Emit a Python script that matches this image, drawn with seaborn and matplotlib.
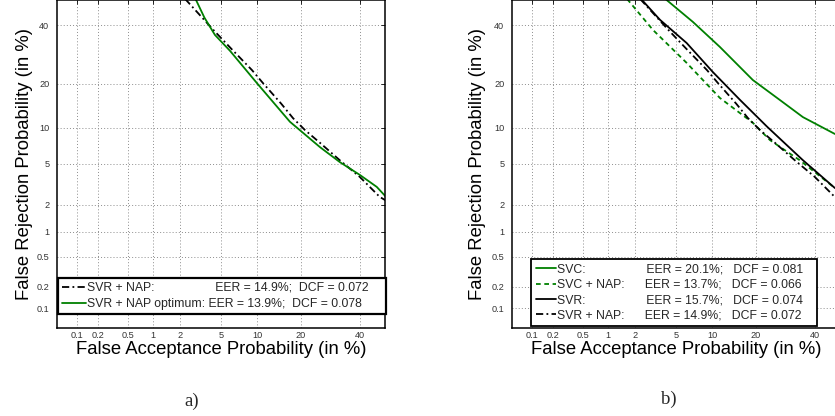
import math
import numpy as np
import matplotlib
matplotlib.use("Agg")
import matplotlib.pyplot as plt
import seaborn as sns
from matplotlib.ticker import FixedLocator, FixedFormatter, NullLocator

# ---------------- data (all values in %) ----------------
tick_values = [0.1, 0.2, 0.5, 1, 2, 5, 10, 20, 40]
tick_labels = ["0.1", "0.2", "0.5", "1", "2", "5", "10", "20", "40"]

# SVR + NAP (same system in both panels)
svr_nap_fa = [1.8, 2.3, 4.3, 6.3, 9.1, 11.0, 14.9, 17.8, 21.1, 25.7, 32.5, 40.0, 47.9, 50.5]
svr_nap_fr = [54, 50, 38.0, 30.8, 24.1, 20.3, 14.9, 11.8, 9.6, 7.6, 5.4, 3.8, 2.41, 2.2]

# SVR + NAP optimum
svr_nap_opt_fa = [2.6, 2.9, 3.5, 4.4, 6.0, 9.9, 17.0, 25.7, 32.5, 40.0, 46.7, 50.5]
svr_nap_opt_fr = [54, 50, 43.0, 36.3, 30.5, 20.3, 11.1, 7.0, 5.2, 3.97, 3.04, 2.4]

# SVC
svc_fa = [3.2, 4.1, 7.0, 11.4, 19.1, 27.3, 35.5, 47.9, 50.5]
svc_fr = [54, 50, 41.3, 31.9, 21.1, 15.8, 12.0, 8.96, 8.7]

# SVC + NAP
svc_nap_fa = [1.37, 1.67, 3.03, 6.2, 11.4, 19.1, 24.1, 34.3, 47.9, 50.5]
svc_nap_fr = [54, 50, 38.2, 26.4, 16.3, 10.9, 8.0, 5.4, 2.97, 2.8]

# SVR
svr_fa = [1.9, 2.35, 3.55, 6.2, 10.1, 15.8, 23.2, 35.5, 47.9, 50.5]
svr_fr = [54, 50, 42.1, 33.3, 23.5, 15.8, 10.2, 5.4, 2.97, 2.8]

left_labels = [
    "SVR + NAP:" + " " * 18 + "EER = 14.9%;  DCF = 0.072",
    "SVR + NAP optimum: EER = 13.9%;  DCF = 0.078",
]
right_labels = [
    "SVC:" + " " * 18 + "EER = 20.1%;   DCF = 0.081",
    "SVC + NAP:" + " " * 6 + "EER = 13.7%;   DCF = 0.066",
    "SVR:" + " " * 18 + "EER = 15.7%;   DCF = 0.074",
    "SVR + NAP:" + " " * 6 + "EER = 14.9%;   DCF = 0.072",
]

GREEN = "#008000"
BLACK = "#000000"
DASHDOT = (0, (4, 1.8, 1, 1.8))
DASHED = (0, (2.6, 2.0))


# ---------------- probit (normal deviate) scale ----------------
_a = [-3.969683028665376e+01, 2.209460984245205e+02, -2.759285104469687e+02,
      1.383577518672690e+02, -3.066479806614716e+01, 2.506628277459239e+00]
_b = [-5.447609879822406e+01, 1.615858368580409e+02, -1.556989798598866e+02,
      6.680131188771972e+01, -1.328068155288572e+01]
_c = [-7.784894002430293e-03, -3.223964580411365e-01, -2.400758277161838e+00,
      -2.549732539343734e+00, 4.374664141464968e+00, 2.938163982698783e+00]
_d = [7.784695709041462e-03, 3.224671290700398e-01, 2.445134137142996e+00,
      3.754408661907416e+00]


def _ppf(p):
    p = np.clip(np.asarray(p, dtype=float), 1e-12, 1 - 1e-12)
    plow = 0.02425
    q_low = np.sqrt(-2 * np.log(np.minimum(p, 0.5)))
    x_low = (((((_c[0] * q_low + _c[1]) * q_low + _c[2]) * q_low + _c[3]) * q_low + _c[4]) * q_low + _c[5]) / \
            ((((_d[0] * q_low + _d[1]) * q_low + _d[2]) * q_low + _d[3]) * q_low + 1)
    q_hi = np.sqrt(-2 * np.log(np.minimum(1 - p, 0.5)))
    x_hi = -(((((_c[0] * q_hi + _c[1]) * q_hi + _c[2]) * q_hi + _c[3]) * q_hi + _c[4]) * q_hi + _c[5]) / \
           ((((_d[0] * q_hi + _d[1]) * q_hi + _d[2]) * q_hi + _d[3]) * q_hi + 1)
    q = p - 0.5
    r = q * q
    x_mid = (((((_a[0] * r + _a[1]) * r + _a[2]) * r + _a[3]) * r + _a[4]) * r + _a[5]) * q / \
            (((((_b[0] * r + _b[1]) * r + _b[2]) * r + _b[3]) * r + _b[4]) * r + 1)
    return np.where(p < plow, x_low, np.where(p > 1 - plow, x_hi, x_mid))


_erf = np.vectorize(math.erf, otypes=[float])


def probit_fwd(v):
    return _ppf(np.asarray(v, dtype=float) / 100.0)


def probit_inv(z):
    return 50.0 * (1.0 + _erf(np.asarray(z, dtype=float) / math.sqrt(2.0)))


# ---------------- style ----------------
sns.set_theme(style="white")
plt.rcParams["font.family"] = ["Liberation Sans", "DejaVu Sans"]

fig = plt.figure(figsize=(8.35, 4.16), dpi=100)
W, H = 835.0, 416.0
axL = fig.add_axes([57 / W, 1 - 328 / H, 328 / W, 328 / H])
axR = fig.add_axes([512 / W, 1 - 328 / H, 328 / W, 328 / H])


def style_axes(ax, ylab_x):
    ax.set_xscale("function", functions=(probit_fwd, probit_inv))
    ax.set_yscale("function", functions=(probit_fwd, probit_inv))
    ax.set_xlim(0.05, 50)
    ax.set_ylim(0.05, 50)
    for axis in (ax.xaxis, ax.yaxis):
        axis.set_major_locator(FixedLocator(tick_values))
        axis.set_major_formatter(FixedFormatter(tick_labels))
        axis.set_minor_locator(NullLocator())
    ax.grid(True, which="major", linestyle=(0, (1, 2.2)), color="#8c8c8c", linewidth=0.7)
    ax.set_axisbelow(True)
    for sp in ax.spines.values():
        sp.set_visible(True)
        sp.set_color("black")
        sp.set_linewidth(1.1)
    ax.tick_params(axis="both", direction="in", length=3, width=0.6, top=True, right=True,
                   labelsize=6.6, labelcolor="#333333", color="black")
    ax.tick_params(axis="x", pad=2.2)
    ax.tick_params(axis="y", pad=5.5)
    ax.set_xlabel("False Acceptance Probability (in %)", fontsize=13.3, color="black")
    ax.set_ylabel("False Rejection Probability (in %)", fontsize=13.3, color="black")
    ax.xaxis.set_label_coords(0.5, -0.04)
    ax.yaxis.set_label_coords(ylab_x, 0.5)


def draw(ax, fa, fr, color, ls, lw=1.3):
    sns.lineplot(x=fa, y=fr, ax=ax, color=color, linestyle=ls, linewidth=lw,
                 estimator=None, sort=False, legend=False)
    return ax.lines[-1]


style_axes(axL, -0.073)
style_axes(axR, -0.079)

# left panel
hL1 = draw(axL, svr_nap_fa, svr_nap_fr, BLACK, DASHDOT)
hL2 = draw(axL, svr_nap_opt_fa, svr_nap_opt_fr, GREEN, "-")

# right panel
hR1 = draw(axR, svc_fa, svc_fr, GREEN, "-")
hR2 = draw(axR, svc_nap_fa, svc_nap_fr, GREEN, DASHED)
hR3 = draw(axR, svr_fa, svr_fr, BLACK, "-")
hR4 = draw(axR, svr_nap_fa, svr_nap_fr, BLACK, DASHDOT)

legL = axL.legend([hL1, hL2], left_labels, loc="lower left", mode="expand",
                  bbox_to_anchor=(0.003, 0.043, 1.0, 0.1), borderaxespad=0,
                  fontsize=8.8, handlelength=1.95, handletextpad=0.1,
                  borderpad=0.33, labelspacing=0.32, fancybox=False, framealpha=1)
legL.get_frame().set_edgecolor("black")
legL.get_frame().set_linewidth(1.6)

legR = axR.legend([hR1, hR2, hR3, hR4], right_labels, loc="lower left", mode="expand",
                  bbox_to_anchor=(0.058, 0.006, 0.872, 0.2), borderaxespad=0,
                  fontsize=8.8, handlelength=1.65, handletextpad=0.1,
                  borderpad=0.38, labelspacing=0.27, fancybox=False, framealpha=1)
legR.get_frame().set_edgecolor("black")
legR.get_frame().set_linewidth(1.3)

fig.text(192 / W, 1 - 401 / H, "a)", family=["Liberation Serif", "DejaVu Serif"],
         fontsize=13.5, ha="center", va="center")
fig.text(669 / W, 1 - 399 / H, "b)", family=["Liberation Serif", "DejaVu Serif"],
         fontsize=13.5, ha="center", va="center")

fig.savefig("out.png", dpi=100, facecolor="white")
